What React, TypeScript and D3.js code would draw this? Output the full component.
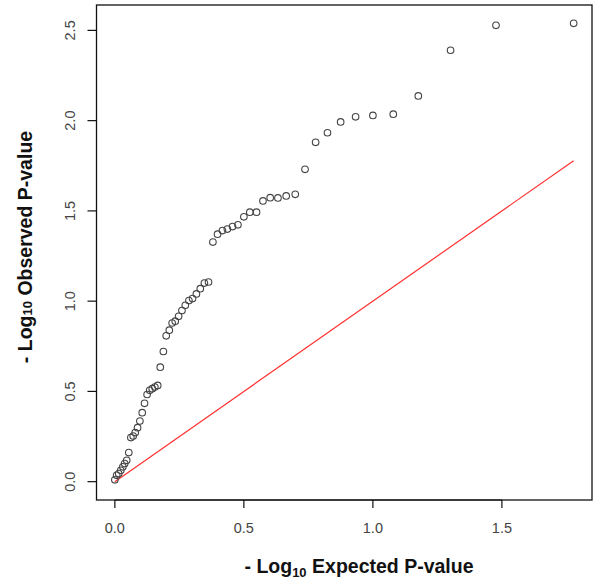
import React from "react";
import * as d3 from "d3";

const expected = [
  1.778, 1.477, 1.301, 1.176, 1.079, 1.0, 0.933, 0.875, 0.824, 0.778,
  0.737, 0.699, 0.664, 0.632, 0.602, 0.574, 0.549, 0.523, 0.5, 0.477,
  0.456, 0.436, 0.417, 0.398, 0.38, 0.363, 0.347, 0.331, 0.316, 0.301,
  0.287, 0.273, 0.26, 0.247, 0.234, 0.222, 0.211, 0.199, 0.188, 0.176,
  0.166, 0.155, 0.145, 0.135, 0.125, 0.115, 0.106, 0.097, 0.088, 0.079,
  0.071, 0.062, 0.054, 0.046, 0.038, 0.031, 0.023, 0.015, 0.007, 0.0,
];
const observed = [
  2.539, 2.528, 2.39, 2.137, 2.036, 2.029, 2.021, 1.993, 1.933, 1.88,
  1.73, 1.592, 1.583, 1.572, 1.573, 1.555, 1.493, 1.493, 1.467, 1.423,
  1.413, 1.399, 1.391, 1.371, 1.327, 1.106, 1.1, 1.069, 1.04, 1.014,
  1.003, 0.977, 0.948, 0.916, 0.889, 0.879, 0.839, 0.808, 0.721, 0.634,
  0.533, 0.524, 0.515, 0.506, 0.483, 0.434, 0.382, 0.336, 0.299, 0.272,
  0.253, 0.244, 0.161, 0.118, 0.1, 0.082, 0.063, 0.045, 0.035, 0.01,
];
const xTicks = [0, 0.5, 1.0, 1.5];
const yTicks = [0, 0.5, 1.0, 1.5, 2.0, 2.5];
const diagonal = [0, 1.778];

const W = 600;
const H = 586;
const left = 96.5;
const right = 592;
const top = 5;
const bottom = 500;

export default function App() {
  const xMax = d3.max(expected) as number;
  const yMax = d3.max(observed) as number;
  const x = d3
    .scaleLinear()
    .domain([-0.04 * xMax, xMax * 1.04])
    .range([left, right]);
  const y = d3
    .scaleLinear()
    .domain([-0.04 * yMax, yMax * 1.04])
    .range([bottom, top]);
  const font = "'Liberation Sans', Arial, sans-serif";
  const tickColor = "#444";
  return (
    <svg
      width={W}
      height={H}
      style={{ position: "absolute", left: 0, top: 0, background: "#fff" }}
      fontFamily={font}
    >
      <rect x={0} y={0} width={W} height={H} fill="#fff" />
      <line
        x1={x(diagonal[0])}
        y1={y(diagonal[0])}
        x2={x(diagonal[1])}
        y2={y(diagonal[1])}
        stroke="#ff3030"
        strokeWidth={1.2}
      />
      {expected.map((e, i) => (
        <circle
          key={i}
          cx={x(e)}
          cy={y(observed[i])}
          r={3.3}
          fill="none"
          stroke="#444"
          strokeWidth={1.1}
        />
      ))}
      <rect
        x={left}
        y={top}
        width={right - left}
        height={bottom - top}
        fill="none"
        stroke="#111"
        strokeWidth={1.3}
      />
      <line
        x1={x(xTicks[0])}
        x2={x(xTicks[xTicks.length - 1])}
        y1={bottom}
        y2={bottom}
        stroke="#111"
        strokeWidth={1.2}
      />
      {xTicks.map((t) => (
        <g key={t}>
          <line
            x1={x(t)}
            x2={x(t)}
            y1={bottom}
            y2={bottom + 8}
            stroke="#111"
            strokeWidth={1.2}
          />
          <text
            x={x(t)}
            y={533}
            textAnchor="middle"
            fontSize={14.5}
            fill={tickColor}
          >
            {t.toFixed(1)}
          </text>
        </g>
      ))}
      {yTicks.map((t) => (
        <g key={t}>
          <line
            x1={left - 9}
            x2={left}
            y1={y(t)}
            y2={y(t)}
            stroke="#111"
            strokeWidth={1.2}
          />
          <text
            transform={`translate(75,${y(t)}) rotate(-90)`}
            textAnchor="middle"
            fontSize={14.5}
            fill={tickColor}
          >
            {t.toFixed(1)}
          </text>
        </g>
      ))}
      <text
        x={359}
        y={573}
        textAnchor="middle"
        fontSize={19.5}
        fontWeight="bold"
        fill="#111"
      >
        - Log
        <tspan fontSize={13} dy={4}>
          10
        </tspan>
        <tspan dy={-4}> Expected P-value</tspan>
      </text>
      <text
        transform={`translate(32,${247}) rotate(-90)`}
        textAnchor="middle"
        fontSize={19.5}
        fontWeight="bold"
        fill="#111"
      >
        - Log
        <tspan fontSize={13}>10</tspan>
        <tspan> Observed P-value</tspan>
      </text>
    </svg>
  );
}
